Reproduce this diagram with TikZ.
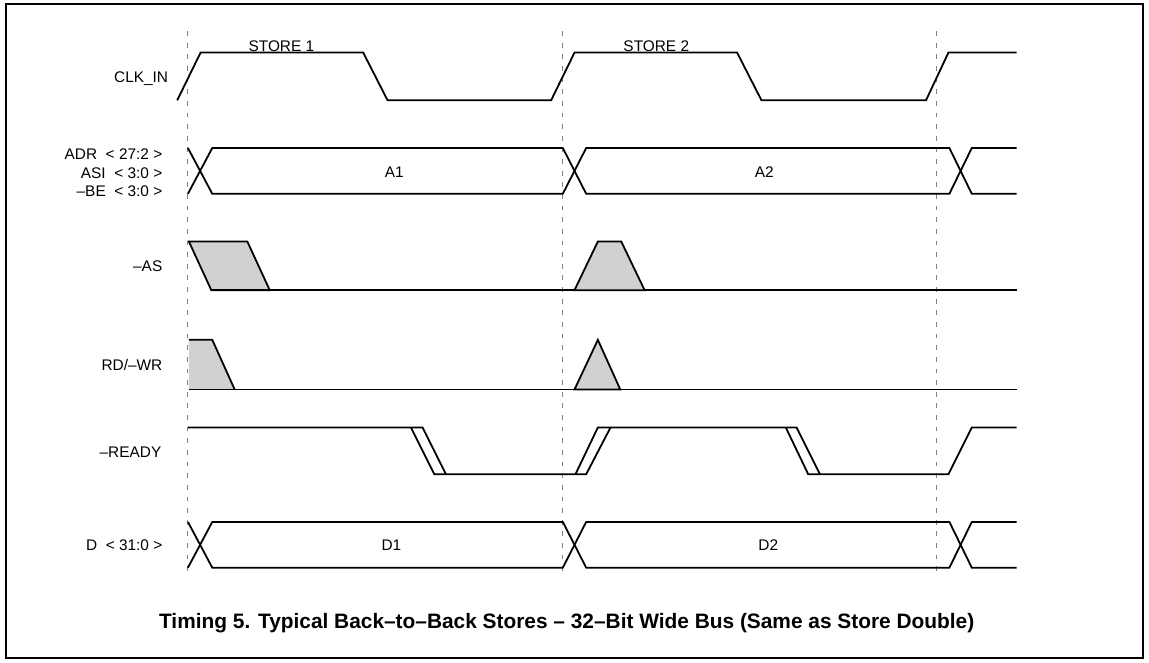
\documentclass[tikz,border=0pt]{standalone}
\usepackage{fontspec}
\setmainfont{Liberation Sans}

\begin{document}
\begin{tikzpicture}[x=0.02cm,y=-0.02cm,
    sig/.style={line width=1.05pt},
    guide/.style={gray,line width=0.6pt,dash pattern=on 2.8pt off 4pt},
    dotfill/.style={fill=black!18},
    lbl/.style={anchor=east,inner sep=0pt,font=\fontsize{9}{10}\selectfont},
    txt/.style={font=\fontsize{9}{10}\selectfont}]
    \useasboundingbox (0,0) rectangle (1180,680);
    \draw[line width=1pt] (6,4) rectangle (1174,676);
    % clock edges
    \foreach \x in {193,578,962}
        \draw[guide] (\x,32) -- (\x,593);
    % CLK_IN
    \node[lbl] (clk) at (173,81) {CLK\_IN};
    \draw[sig] (182,103) -- (206,54) -- (373,54) -- (398,103) -- (566,103) -- (590,54)
        -- (757,54) -- (782,103) -- (951,103) -- (974,54) -- (1044,54);
    \node[txt] (store1) at (289,47) {STORE 1};
    \node[txt] (store2) at (674,47) {STORE 2};
    % address and data buses
    \node[lbl] (adr) at (167,158) {ADR~~< 27:2 >};
    \node[lbl] (asi) at (167,178) {ASI~~< 3:0 >};
    \node[lbl] (be) at (167,196) {–BE~~< 3:0 >};
    \node[lbl] (data) at (167,560) {D~~< 31:0 >};
    \foreach \t/\b in {152/199,536/583} {
        \draw[sig] (193,\t) -- (218,\b) -- (578,\b) -- (602,\t) -- (975,\t) -- (998,\b) -- (1044,\b);
        \draw[sig] (193,\b) -- (218,\t) -- (578,\t) -- (602,\b) -- (975,\b) -- (998,\t) -- (1044,\t);
    }
    \node[txt] (a1) at (405,177) {A1};
    \node[txt] (a2) at (785,177) {A2};
    \node[txt] (d1) at (402,560) {D1};
    \node[txt] (d2) at (789,560) {D2};
    % -AS
    \node[lbl] (as) at (167,273) {–AS};
    \filldraw[sig,dotfill] (194,248) -- (254,248) -- (277,298) -- (217,298) -- cycle;
    \draw[sig] (217,298) -- (1044,298);
    \filldraw[sig,dotfill] (590,298) -- (614,248) -- (638,248) -- (662,298) -- cycle;
    % RD/-WR
    \node[lbl] (rdwr) at (167,375) {RD/–WR};
    \fill[dotfill] (194,349) -- (218,349) -- (241,400) -- (194,400) -- cycle;
    \draw[sig] (194,349) -- (218,349) -- (241,400);
    \draw[sig] (194,400) -- (1044,400);
    \filldraw[sig,dotfill] (590,400) -- (614,349) -- (637,400) -- cycle;
    % -READY
    \node[lbl] (ready) at (166,464) {–READY};
    \draw[sig] (193,439) -- (434,439) -- (458,487);
    \draw[sig] (422,439) -- (446,487) -- (602,487) -- (627,439);
    \draw[sig] (591,487) -- (614,439) -- (818,439) -- (842,487);
    \draw[sig] (807,439) -- (830,487) -- (974,487) -- (998,439) -- (1044,439);
    \node[anchor=base,font=\bfseries\fontsize{12.2}{14}\selectfont] (caption) at (582,645)
        {Timing 5. Typical Back–to–Back Stores – 32–Bit Wide Bus (Same as Store Double)};
\end{tikzpicture}
\end{document}
